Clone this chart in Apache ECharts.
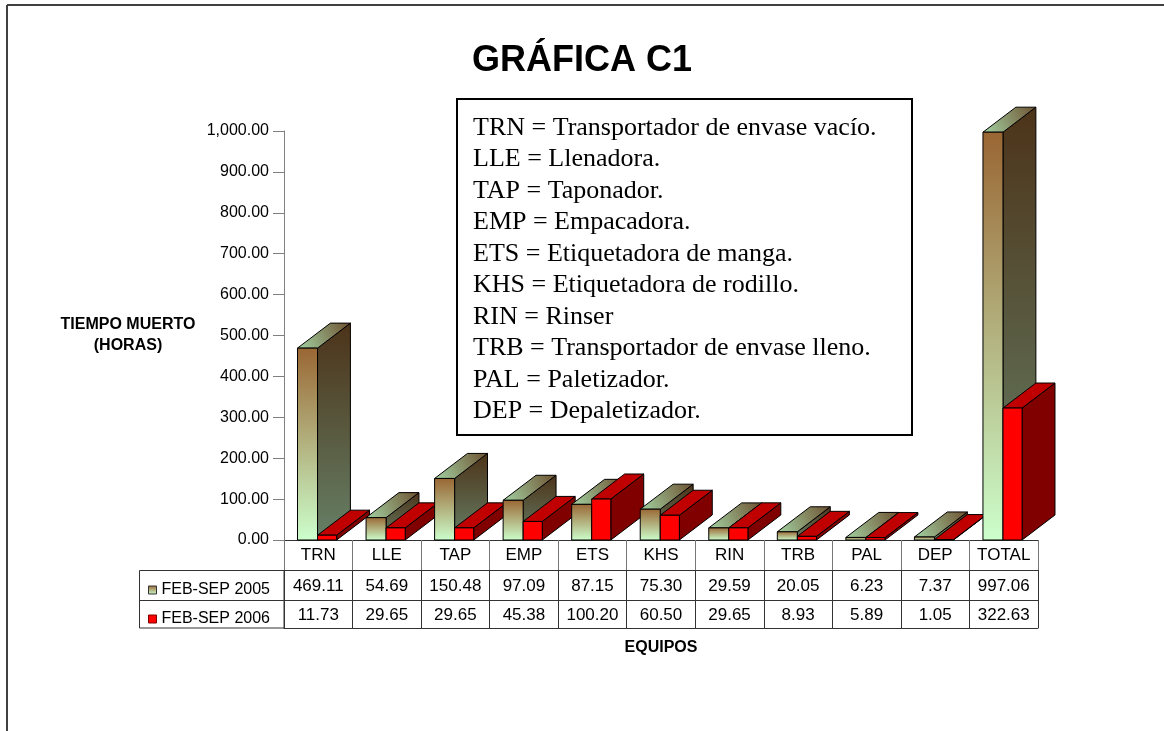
<!DOCTYPE html>
<html>
<head>
<meta charset="utf-8">
<script src="https://cdn.jsdelivr.net/npm/echarts@6/dist/echarts.min.js"></script>
<style>
  html, body { margin: 0; padding: 0; background: #fff; }
  #main { width: 1164px; height: 731px; }
</style>
</head>
<body>
<div id="main"></div>
<script>
// datos
const categories = ['TRN', 'LLE', 'TAP', 'EMP', 'ETS', 'KHS', 'RIN', 'TRB', 'PAL', 'DEP', 'TOTAL'];
const feb2005 = [469.11, 54.69, 150.48, 97.09, 87.15, 75.30, 29.59, 20.05, 6.23, 7.37, 997.06];
const feb2006 = [11.73, 29.65, 29.65, 45.38, 100.20, 60.50, 29.65, 8.93, 5.89, 1.05, 322.63];
const seriesNames = ['FEB-SEP 2005', 'FEB-SEP 2006'];
const glossary = [
  'TRN = Transportador de envase vacío.',
  'LLE = Llenadora.',
  'TAP = Taponador.',
  'EMP = Empacadora.',
  'ETS = Etiquetadora de manga.',
  'KHS = Etiquetadora de rodillo.',
  'RIN = Rinser',
  'TRB = Transportador de envase lleno.',
  'PAL = Paletizador.',
  'DEP = Depaletizador.'
];

const sans = '"Liberation Sans", Arial, sans-serif';
const serif = '"Liberation Serif", "Times New Roman", serif';
const G = echarts.graphic;

function fmt(v) {
  return v.toFixed(2).replace(/\B(?=(\d{3})+(?!\d))/g, ',');
}

// estilos de las caras de cada serie
const faces = [
  {
    from: 0.197, to: 0.489,
    front: new G.LinearGradient(0, 0, 0, 1, [{ offset: 0, color: '#996633' }, { offset: 1, color: '#CCFFCC' }]),
    side: new G.LinearGradient(0, 0, 0, 1, [{ offset: 0, color: '#4C3319' }, { offset: 1, color: '#668066' }]),
    top: new G.LinearGradient(0, 1, 1, 0, [{ offset: 0, color: '#A3D3A3' }, { offset: 1, color: '#6E5030' }])
  },
  {
    from: 0.489, to: 0.768,
    front: '#FF0000',
    side: '#800000',
    top: '#C00000'
  }
];

function bar3d(s) {
  return function (params, api) {
    const i = api.value(0);
    const v = api.value(1);
    const base = api.coord([i, 0]);
    const head = api.coord([i, v]);
    const bw = api.size([1, 0])[0];
    const left = base[0] - bw / 2;
    const x0 = left + bw * faces[s].from;
    const x1 = left + bw * faces[s].to;
    const y0 = base[1], y1 = head[1];
    const dx = bw * 0.48, dy = -bw * 0.365;
    const z = i * 10 + s * 4;
    const line = { stroke: '#000', lineWidth: 1 };
    return {
      type: 'group',
      children: [
        { type: 'polygon', z2: z, shape: { points: [[x1, y1], [x1 + dx, y1 + dy], [x1 + dx, y0 + dy], [x1, y0]] },
          style: Object.assign({ fill: faces[s].side }, line) },
        { type: 'polygon', z2: z + 1, shape: { points: [[x0, y1], [x1, y1], [x1 + dx, y1 + dy], [x0 + dx, y1 + dy]] },
          style: Object.assign({ fill: faces[s].top }, line) },
        { type: 'polygon', z2: z + 2, shape: { points: [[x0, y1], [x1, y1], [x1, y0], [x0, y0]] },
          style: Object.assign({ fill: faces[s].front }, line) }
      ]
    };
  };
}

const chart = echarts.init(document.getElementById('main'));

const tableRow = (offset, tickLen, margin, formatter, tickColor) => ({
  type: 'category',
  data: categories,
  position: 'bottom',
  offset: offset,
  axisLine: { show: true, onZero: false, lineStyle: { color: '#333', width: 1 } },
  axisTick: { show: tickLen > 0, length: tickLen, interval: 0, lineStyle: { color: tickColor, width: 1 } },
  axisLabel: { show: !!formatter, interval: 0, margin: margin, fontSize: 17, color: '#000', fontFamily: sans, formatter: formatter },
  splitLine: { show: false }
});

const xAxes = [
  tableRow(0, 30, 7, (v) => v, '#777'),
  tableRow(30, 30, 8, (v, idx) => feb2005[idx].toFixed(2), '#333'),
  tableRow(60, 28, 7, (v, idx) => feb2006[idx].toFixed(2), '#333'),
  Object.assign(tableRow(88, 0, 8, null, '#333'), {
    name: 'EQUIPOS', nameLocation: 'middle', nameGap: 12,
    nameTextStyle: { fontSize: 16, fontWeight: 'bold', color: '#000', fontFamily: sans }
  })
];

chart.setOption({
  backgroundColor: '#fff',
  animation: false,
  title: {
    text: 'GRÁFICA C1',
    left: 'center',
    top: 38,
    textStyle: { fontSize: 36, fontWeight: 'bold', color: '#000', fontFamily: sans }
  },
  grid: { left: 284, right: 126, top: 131, bottom: 191 },
  legend: {
    orient: 'vertical',
    left: 143,
    top: 577,
    itemWidth: 8,
    itemHeight: 8,
    itemGap: 13,
    icon: 'rect',
    selectedMode: false,
    textStyle: { fontSize: 16, color: '#000', fontFamily: sans },
    data: [
      { name: seriesNames[0], itemStyle: { color: new G.LinearGradient(0, 0, 0, 1, [{ offset: 0, color: '#996633' }, { offset: 1, color: '#CCFFCC' }]), borderColor: '#333', borderWidth: 1 } },
      { name: seriesNames[1], itemStyle: { color: '#FF0000', borderColor: '#800000', borderWidth: 1 } }
    ]
  },
  xAxis: xAxes,
  yAxis: {
    type: 'value',
    min: 0,
    max: 1000,
    interval: 100,
    name: 'TIEMPO MUERTO\n(HORAS)',
    nameLocation: 'middle',
    nameRotate: 0,
    nameGap: 156,
    nameTextStyle: { fontSize: 16, fontWeight: 'bold', color: '#000', fontFamily: sans, align: 'center', verticalAlign: 'middle', lineHeight: 21 },
    axisLine: { show: true, lineStyle: { color: '#808080', width: 1 } },
    axisTick: { show: true, length: 11, lineStyle: { color: '#808080' } },
    axisLabel: { margin: 15, fontSize: 16, color: '#000', fontFamily: sans, formatter: fmt },
    splitLine: { show: false }
  },
  series: [
    {
      type: 'custom',
      name: seriesNames[0],
      renderItem: bar3d(0),
      encode: { x: 0, y: 1 },
      itemStyle: { color: '#B2B280' },
      data: feb2005.map((v, i) => [i, v])
    },
    {
      type: 'custom',
      name: seriesNames[1],
      renderItem: bar3d(1),
      encode: { x: 0, y: 1 },
      itemStyle: { color: '#FF0000' },
      data: feb2006.map((v, i) => [i, v])
    }
  ],
  graphic: [
    // marco exterior
    { type: 'line', z: 100, shape: { x1: 7, y1: 5, x2: 1164, y2: 5 }, style: { stroke: '#404040', lineWidth: 2 } },
    { type: 'line', z: 100, shape: { x1: 7, y1: 5, x2: 7, y2: 731 }, style: { stroke: '#404040', lineWidth: 2 } },
    // celda de leyenda de la tabla
    { type: 'rect', z: 50, shape: { x: 139.5, y: 570.5, width: 144.5, height: 57.5 }, style: { fill: 'none', stroke: '#333', lineWidth: 1 } },
    { type: 'line', z: 50, shape: { x1: 139.5, y1: 600.5, x2: 284, y2: 600.5 }, style: { stroke: '#333', lineWidth: 1 } },
    // cuadro de abreviaturas
    {
      type: 'group', z: 60,
      children: [
        { type: 'rect', shape: { x: 457, y: 99, width: 455, height: 336 }, style: { fill: '#fff', stroke: '#000', lineWidth: 2 } },
        { type: 'text', x: 473, y: 112, style: { text: glossary.join('\n'), font: '26px ' + serif, lineHeight: 31.5, fill: '#000' } }
      ]
    }
  ]
});
</script>
</body>
</html>
